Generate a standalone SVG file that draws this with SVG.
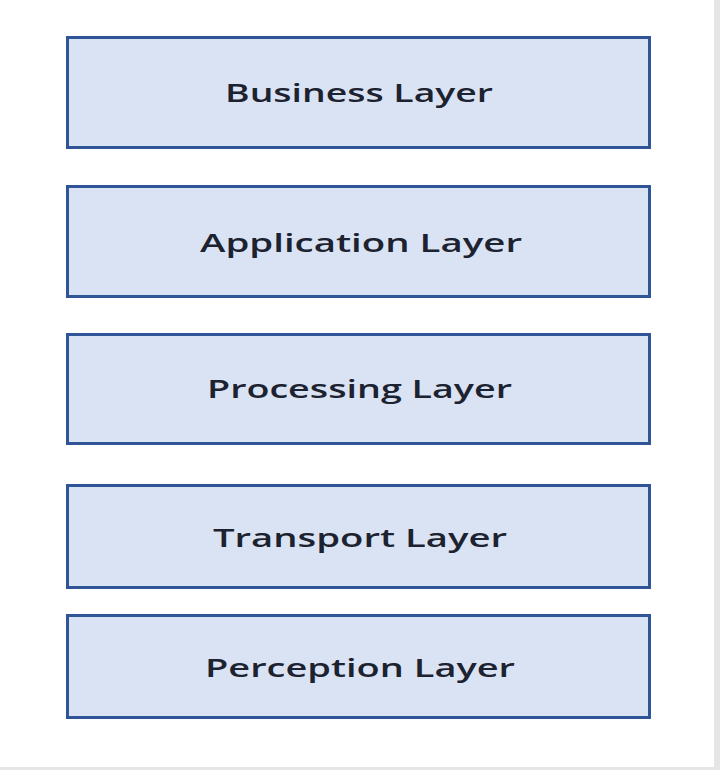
<svg xmlns="http://www.w3.org/2000/svg" width="720" height="770" viewBox="0 0 720 770">
<style>
.box{fill:#dae3f3;stroke:#2f5597;stroke-width:3}
.lbl{font-family:"Open Sans","Noto Sans","Liberation Sans",sans-serif;font-size:25px;font-weight:600;fill:#1c2230;text-anchor:middle}
</style>
<rect x="0" y="0" width="720" height="770" fill="#ffffff"/>
<rect x="714" y="0" width="6" height="770" fill="#e6e6e6"/>
<rect x="0" y="767" width="720" height="3" fill="#e6e6e6"/>
<g id="business-layer">
<rect class="box" x="67.5" y="37.5" width="582" height="110"/>
<text class="lbl" x="359" y="102" textLength="268" lengthAdjust="spacingAndGlyphs">Business Layer</text>
</g>
<g id="application-layer">
<rect class="box" x="67.5" y="186.5" width="582" height="110"/>
<text class="lbl" x="361" y="252" textLength="322" lengthAdjust="spacingAndGlyphs">Application Layer</text>
</g>
<g id="processing-layer">
<rect class="box" x="67.5" y="334.5" width="582" height="109"/>
<text class="lbl" x="359.5" y="398" textLength="305" lengthAdjust="spacingAndGlyphs">Processing Layer</text>
</g>
<g id="transport-layer">
<rect class="box" x="67.5" y="485.5" width="582" height="102"/>
<text class="lbl" x="360" y="547" textLength="294" lengthAdjust="spacingAndGlyphs">Transport Layer</text>
</g>
<g id="perception-layer">
<rect class="box" x="67.5" y="615.5" width="582" height="102"/>
<text class="lbl" x="360" y="677" textLength="310" lengthAdjust="spacingAndGlyphs">Perception Layer</text>
</g>
<g id="connectors"></g>
</svg>
